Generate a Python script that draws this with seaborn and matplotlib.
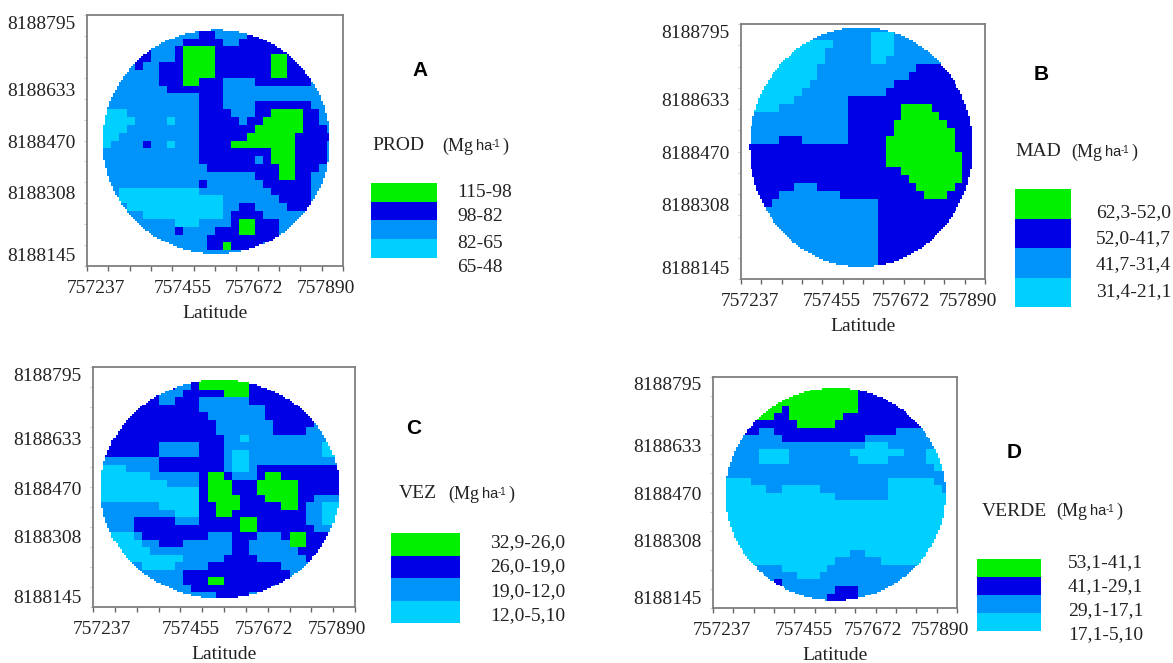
import re

import matplotlib.pyplot as plt
import numpy as np
import pandas as pd
import seaborn as sns
from matplotlib.colors import ListedColormap

# class of each map cell, top row first, as runs: g green, d dark blue, m mid blue, c cyan
prod_rows = [
    "m32", "m32", "m14 d2 m4 d12", "m12 d5 m2 d13", "m6 d2 m3 d1 g4 d16",
    "m6 d2 m3 d1 g4 d7 g2 d7", "m6 d1 m2 d3 g4 d7 g2 d3 m4", "m9 d3 g4 d7 g2 d3 m4",
    "m9 d3 g2 d3 m4 d7 m4", "m10 d7 m15", "m14 d3 m15", "m14 d3 m4 d7 m4",
    "m2 c3 m9 d4 m3 d2 g4 d2 m3", "m2 c4 m4 c1 m3 d5 m1 d2 g5 d2 m3", "m2 c3 m9 d7 g6 d3 m2",
    "m2 c2 m10 d6 g6 d6", "m2 c1 m4 d1 m2 c1 m3 d4 g8 d4 m2", "m14 d9 g3 d4 m2",
    "m14 d7 m1 d1 g3 d4 m2", "m15 d9 g2 d3 m3", "m21 d3 g2 d2 m4", "m14 d1 m7 d6 m4",
    "m4 c10 m9 d5 m4", "m4 c13 m7 d4 m4", "m5 c12 m2 d2 m4 d3 m4", "m7 c10 m1 d4 m10",
    "m11 c3 m4 d1 g2 d3 m8", "m11 d1 m4 d3 g2 d3 m8", "m15 d9 m8", "m15 d2 g1 d4 m10",
    "m32", "m32",
]
mad_rows = [
    "m32", "m17 c3 m12", "c12 m5 c3 m12", "c11 m6 c3 m12", "c11 m6 c2 m13",
    "c10 m13 d4 m5", "c10 m12 d6 m4", "c9 m11 d12", "c8 m11 d13", "c7 m7 d18",
    "c5 m9 d7 g4 d7", "m14 d7 g5 d6", "m14 d6 g7 d5", "m14 d6 g8 d4", "m5 d3 m6 d5 g9 d4",
    "d19 g9 d4", "d19 g10 d3", "d19 g10 d3", "d21 g8 d3", "d22 g7 d3",
    "d7 m3 d13 g5 d4", "d5 m8 d11 g3 d5", "d4 m14 d14", "d3 m15 d14", "m18 d14",
    "m18 d14", "m18 d14", "m18 d14", "m18 d14", "m18 d14", "m18 d14", "m18 d14",
]
vez_rows = [
    "d32", "d13 g5 d14", "d10 m2 d1 g6 d13", "d8 m3 d5 g3 d13", "d8 m2 d3 m6 d13",
    "d13 m8 d11", "d14 m7 d11", "d15 m7 d5 m5", "d15 m7 d4 m6", "d16 m2 c1 m13",
    "d8 m5 d3 m12 c2 m2", "d8 m5 d3 m1 c2 m9 c2 m2", "m8 d8 m1 c2 m13", "c4 m4 d8 m1 c2 m1 d12",
    "c7 m6 d1 g2 d1 m3 d1 g2 d9", "c9 m4 d1 g3 d3 g5 d7", "c13 d1 g3 d3 g5 d7",
    "c13 d1 g4 d3 g4 d2 m5", "m8 c5 d2 g3 d5 g2 d1 m2 c4", "m10 c3 d2 g2 d9 m2 c4",
    "m5 d5 m3 d5 g2 d6 m2 c4", "m5 d13 g2 d7 m5", "m2 c3 m1 d8 m3 d3 m3 d1 g2 d4 m2",
    "m2 c4 m2 d3 m6 d2 m5 g2 d6", "m3 c4 m10 d2 m6 d4 m3", "m4 c7 m5 d4 m6 d2 m4",
    "m6 c4 m4 d9 m9", "m11 d13 m8", "m11 d3 g2 d8 m8", "m12 d10 m10", "m15 d4 m13", "m32",
]
verde_rows = [
    "m32", "g11 d1 g7 d13", "g19 d13", "g19 d13", "g9 d1 g9 d13", "g8 d2 g7 d15", "d11 g5 d16",
    "d6 m2 d16 m8", "m9 d11 m12", "m20 c3 m9", "m6 c4 m8 c7 m3 c4", "m6 c4 m9 c4 m5 c4",
    "m29 c3", "m32", "c5 m18 c6 m3", "c7 m2 c5 m9 c7 m2", "c16 m7 c9", "c32", "c32", "c32",
    "c32", "c32", "c32", "c32", "c18 m2 c12", "c16 m6 c10", "m9 c6 m17", "m11 c3 m18",
    "m8 d1 m23", "m16 d3 m13", "m15 d4 m13", "m32",
]
class_codes = {"g": 0, "d": 1, "m": 2, "c": 3}
class_colors = ["#00f000", "#0000e6", "#0094fa", "#00d0ff"]

x_tick_labels = ["757237", "757455", "757672", "757890"]
y_tick_labels = ["8188795", "8188633", "8188470", "8188308", "8188145"]
x_label_pos = [0.036, 0.374, 0.654, 0.932]
y_label_pos = [0.03, 0.296, 0.505, 0.707, 0.955]

prod_legend = ["115-98", "98-82", "82-65", "65-48"]
mad_legend = ["62,3-52,0", "52,0-41,7", "41,7-31,4", "31,4-21,1"]
vez_legend = ["32,9-26,0", "26,0-19,0", "19,0-12,0", "12,0-5,10"]
verde_legend = ["53,1-41,1", "41,1-29,1", "29,1-17,1", "17,1-5,10"]

W, H = 1173, 663
UP = 4

sns.set_theme(style="white")
plt.rcParams["font.family"] = ["Liberation Serif", "DejaVu Serif"]
fig = plt.figure(figsize=(W / 100, H / 100), dpi=100)
cmap = ListedColormap(class_colors)


def px_axes(left, right, top, bottom):
    return fig.add_axes([left / W, 1 - bottom / H, (right - left) / W, (bottom - top) / H])


def px_text(x, y, s, **kw):
    kw.setdefault("va", "center")
    kw.setdefault("size", 14)
    kw.setdefault("color", "#222222")
    fig.text(x / W, 1 - y / H, s, **kw)


def decode(rows, n=32):
    out = []
    for row in rows:
        cells = []
        for code, count in re.findall(r"([gdmc])(\d+)", row):
            cells += [class_codes[code]] * int(count)
        out.append((cells + cells[-1:] * n)[:n])
    return np.array(out)


panels = [
    dict(rows=prod_rows, legend=prod_legend, letter="A", name="PROD", frame=(87, 343, 15, 266),
         circle=(0.505, 0.505, 0.444, 0.447), letter_xy=(420, 70), name_x=372, name_y=146, unit_x=442,
         swatch=(371, 437, 183, 258), legend_x=457, legend_y=[192, 217, 243, 268]),
    dict(rows=mad_rows, legend=mad_legend, letter="B", name="MAD", frame=(741, 985, 24, 279),
         circle=(0.492, 0.483, 0.457, 0.47), letter_xy=(1041, 75), name_x=1015, name_y=152, unit_x=1071,
         swatch=(1015, 1071, 189, 307), legend_x=1096, legend_y=[213, 239, 265, 292]),
    dict(rows=vez_rows, legend=vez_legend, letter="C", name="VEZ", frame=(93, 355, 367, 607),
         circle=(0.484, 0.508, 0.456, 0.455), letter_xy=(414, 429), name_x=399, name_y=494, unit_x=448,
         swatch=(391, 460, 533, 623), legend_x=490, legend_y=[543, 567, 592, 616]),
    dict(rows=verde_rows, legend=verde_legend, letter="D", name="VERDE", frame=(713, 957, 377, 608),
         circle=(0.502, 0.507, 0.45, 0.46), letter_xy=(1014, 453), name_x=982, name_y=511, unit_x=1056,
         swatch=(977, 1041, 559, 631), legend_x=1068, legend_y=[563, 587, 611, 635]),
]

for p in panels:
    grid = decode(p["rows"]).repeat(UP, axis=0).repeat(UP, axis=1)
    n = grid.shape[0]
    xx, yy = np.meshgrid((np.arange(n) + 0.5) / n, (np.arange(n) + 0.5) / n)
    cx, cy, rx, ry = p["circle"]
    outside = ((xx - cx) / rx) ** 2 + ((yy - cy) / ry) ** 2 > 1

    ax = px_axes(*p["frame"])
    sns.heatmap(pd.DataFrame(grid), ax=ax, cmap=cmap, vmin=-0.5, vmax=3.5, mask=outside,
                cbar=False, xticklabels=False, yticklabels=False)
    for spine in ax.spines.values():
        spine.set_visible(True)
        spine.set_color("#7f7f7f")
        spine.set_linewidth(1.3)
    ax.plot([1, 1], [0.96, 0.92], transform=ax.transAxes, color="white", lw=2.5, clip_on=False)

    ax.set_xticks([f * n for f in x_label_pos])
    ax.set_xticklabels(x_tick_labels, size=14, color="#222222")
    ax.set_yticks([f * n for f in y_label_pos])
    ax.set_yticklabels(y_tick_labels, size=14, color="#222222", rotation=0)
    ax.tick_params(axis="x", which="major", length=0, pad=10)
    ax.tick_params(axis="y", which="major", length=0, pad=8)
    ax.set_xticks(np.linspace(0, n, 13), minor=True)
    ax.set_yticks(np.linspace(0, n, 13), minor=True)
    ax.tick_params(axis="x", which="minor", length=3.5, width=1, color="#666666", bottom=True)
    ax.tick_params(axis="y", which="minor", length=2, width=0.7, color="#cccccc", left=True)
    ax.set_xlabel("Latitude", size=14, color="#222222", labelpad=6)
    ax.set_ylabel(None)

    lx, ly = p["letter_xy"]
    px_text(lx, ly, p["letter"], family="Liberation Sans", weight="bold", size=15, ha="center", color="black")
    px_text(p["name_x"], p["name_y"], p["name"])
    ux = p["unit_x"]
    px_text(ux, p["name_y"], "(Mg", size=13)
    px_text(ux + 34, p["name_y"], "ha", family="Liberation Sans", size=10.5)
    px_text(ux + 50, p["name_y"] - 2, "-1", family="Liberation Sans", size=7)
    px_text(ux + 60, p["name_y"], ")", size=13)

    sw = px_axes(*p["swatch"])
    sns.heatmap(pd.DataFrame({"cls": list(class_codes.values())}), ax=sw, cmap=cmap, vmin=-0.5, vmax=3.5,
                cbar=False, xticklabels=False, yticklabels=False)
    for label, y in zip(p["legend"], p["legend_y"]):
        px_text(p["legend_x"], y, label)

plt.savefig("out.png", dpi=100)
